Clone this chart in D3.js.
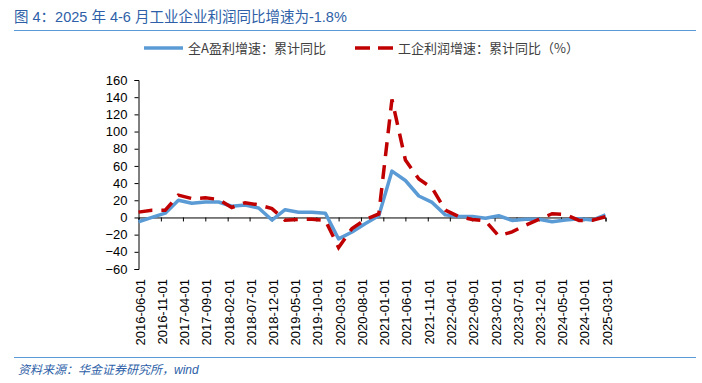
<!DOCTYPE html>
<html lang="zh">
<head>
<meta charset="utf-8">
<title>工业企业利润同比增速</title>
<script src="https://cdn.jsdelivr.net/npm/d3@7"></script>
<style>
    body { margin: 0; background: #fff; }
    svg text { font-family: "Liberation Sans", Arial, "Noto Sans CJK SC", sans-serif; }
    .cjk { font-family: "Noto Sans CJK SC", "Liberation Sans", sans-serif; }
</style>
</head>
<body>
<script>
    // quarterly dates (first of the quarter-end month)
    var quarters = ["2016-06","2016-09","2016-12",
        "2017-03","2017-06","2017-09","2017-12",
        "2018-03","2018-06","2018-09","2018-12",
        "2019-03","2019-06","2019-09","2019-12",
        "2020-03","2020-06","2020-09","2020-12",
        "2021-03","2021-06","2021-09","2021-12",
        "2022-03","2022-06","2022-09","2022-12",
        "2023-03","2023-06","2023-09","2023-12",
        "2024-03","2024-06","2024-09","2024-12",
        "2025-03"];

    // 全A盈利增速：累计同比
    var allA = [-5, 0, 5,
        20, 16.5, 18, 18,
        13, 14.5, 11, -3,
        9, 6, 6, 5,
        -25, -17, -7, 2,
        54, 43, 25, 17.5,
        3, 1, 1, -1,
        2, -3.5, -2, -2,
        -5, -3, -1.5, -3,
        3];

    // 工企利润增速：累计同比（%）
    var industry = [6.2, 8.4, 8.5,
        26, 22.0, 22.8, 21.0,
        11.6, 17.2, 14.7, 10.3,
        -3.3, -2.4, -2.1, -3.3,
        -35, -12.8, -2.4, 4.1,
        137.3, 66.9, 44.7, 34.3,
        8.5, 1.0, -2.3, -4.0,
        -21.4, -16.8, -9.0, -2.3,
        4.3, 3.5, -3.5, -3.3,
        0.8];

    var xTickLabels = ["2016-06-01","2016-11-01","2017-04-01","2017-09-01","2018-02-01",
        "2018-07-01","2018-12-01","2019-05-01","2019-10-01","2020-03-01","2020-08-01",
        "2021-01-01","2021-06-01","2021-11-01","2022-04-01","2022-09-01","2023-02-01",
        "2023-07-01","2023-12-01","2024-05-01","2024-10-01","2025-03-01"];
    var yTicks = [-60, -40, -20, 0, 20, 40, 60, 80, 100, 120, 140, 160];

    var w = 702, h = 383;
    var blue = "#5b9bd5", red = "#c00000", titleBlue = "#2e5fa8";

    var parseM = d3.timeParse("%Y-%m");
    var parseD = d3.timeParse("%Y-%m-%d");

    var svg = d3.select("body").append("svg").attr("width", w).attr("height", h);

    // title + rules
    svg.append("text")
        .attr("x", 14).attr("y", 22)
        .attr("font-size", "14.5px").attr("fill", titleBlue)
        .text("图 4：2025 年 4-6 月工业企业利润同比增速为-1.8%");
    svg.append("line").attr("x1", 14).attr("x2", 696).attr("y1", 30.5).attr("y2", 30.5)
        .attr("stroke", blue).attr("stroke-width", 1.2);
    svg.append("line").attr("x1", 14).attr("x2", 696).attr("y1", 357.5).attr("y2", 357.5)
        .attr("stroke", blue).attr("stroke-width", 1.2);
    svg.append("text")
        .attr("x", 18).attr("y", 374)
        .attr("font-size", "12px").attr("font-style", "italic").attr("fill", titleBlue)
        .text("资料来源：华金证券研究所，wind");

    // scales
    var x = d3.scaleTime()
        .domain([parseD(xTickLabels[0]), parseD(xTickLabels[xTickLabels.length - 1])])
        .range([138.5, 605.5]);
    var y = d3.scaleLinear().domain([-60, 160]).range([269, 80]);

    // y axis
    var yAxis = d3.axisLeft(y).tickValues(yTicks).tickSize(4).tickPadding(7)
        .tickFormat(d3.format("d"));
    var gy = svg.append("g").attr("transform", "translate(" + x.range()[0] + ",0)").call(yAxis);
    gy.select(".domain").attr("stroke", "#000");
    gy.selectAll(".tick line").attr("stroke", "#000");
    gy.selectAll("text").attr("font-size", "13px").attr("fill", "#000")
        .attr("font-family", "Liberation Sans, Arial, sans-serif");

    // x axis at zero
    var xAxis = d3.axisBottom(x).tickValues(xTickLabels.map(parseD)).tickSize(4)
        .tickFormat(function(d){ return ""; });
    var gx = svg.append("g").attr("transform", "translate(0," + y(0) + ")").call(xAxis);
    gx.select(".domain").attr("stroke", "#000");
    gx.selectAll(".tick line").attr("stroke", "#000");

    // rotated date labels below the plot
    svg.selectAll("text.xlab")
        .data(xTickLabels)
        .enter()
        .append("text")
        .attr("class", "xlab")
        .attr("transform", function(d){
            return "translate(" + (x(parseD(d)) + 1.5) + ",279) rotate(-90)";
        })
        .attr("dy", "0.35em")
        .attr("text-anchor", "end")
        .attr("font-size", "13px")
        .attr("fill", "#000")
        .text(function(d){ return d; });

    // lines
    var line = d3.line()
        .x(function(d){ return x(parseM(d[0])); })
        .y(function(d){ return y(d[1]); });

    svg.append("path")
        .datum(d3.zip(quarters, allA))
        .attr("d", line)
        .attr("fill", "none")
        .attr("stroke", blue)
        .attr("stroke-width", 3.5)
        .attr("stroke-linejoin", "round");

    svg.append("path")
        .datum(d3.zip(quarters, industry))
        .attr("d", line)
        .attr("fill", "none")
        .attr("stroke", red)
        .attr("stroke-width", 3.5)
        .attr("stroke-dasharray", "14,9");

    // legend
    var lg = svg.append("g").attr("transform", "translate(0,48)");
    lg.append("line").attr("x1", 144).attr("x2", 183).attr("y1", 0).attr("y2", 0)
        .attr("stroke", blue).attr("stroke-width", 3.5);
    lg.append("text").attr("class", "cjk").attr("x", 188).attr("y", 0).attr("dy", "0.35em")
        .attr("font-size", "13px").attr("fill", "#404040")
        .text("全A盈利增速：累计同比");
    lg.append("line").attr("x1", 355).attr("x2", 393).attr("y1", 0).attr("y2", 0)
        .attr("stroke", red).attr("stroke-width", 3.5).attr("stroke-dasharray", "15,8");
    lg.append("text").attr("class", "cjk").attr("x", 398).attr("y", 0).attr("dy", "0.35em")
        .attr("font-size", "13px").attr("fill", "#404040")
        .text("工企利润增速：累计同比（%）");
</script>
</body>
</html>
